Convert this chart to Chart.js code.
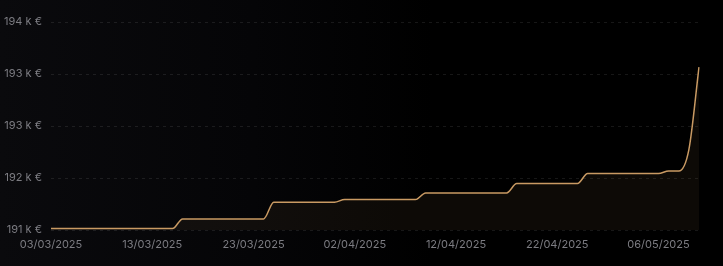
<!DOCTYPE html>
<html>
<head>
<meta charset="utf-8">
<script src="https://cdn.jsdelivr.net/npm/chart.js@4"></script>
<style>
  html, body { margin: 0; padding: 0; }
  body {
    width: 723px; height: 266px; overflow: hidden;
    background: linear-gradient(to right, #0a0a0d 0%, #050507 35%, #000 60%);
  }
  #wrap { position: relative; width: 723px; height: 266px; }
</style>
</head>
<body>
<div id="wrap"><canvas id="myChart"></canvas></div>
<script>
/* Data */

const dates = [
    '03/03/2025', '04/03/2025', '05/03/2025', '06/03/2025', '07/03/2025', '08/03/2025', '09/03/2025',
    '10/03/2025', '11/03/2025', '12/03/2025', '13/03/2025', '14/03/2025', '15/03/2025', '16/03/2025',
    '17/03/2025', '18/03/2025', '19/03/2025', '20/03/2025', '21/03/2025', '22/03/2025', '23/03/2025',
    '24/03/2025', '25/03/2025', '26/03/2025', '27/03/2025', '28/03/2025', '29/03/2025', '30/03/2025',
    '31/03/2025', '01/04/2025', '02/04/2025', '03/04/2025', '04/04/2025', '05/04/2025', '06/04/2025',
    '07/04/2025', '08/04/2025', '09/04/2025', '10/04/2025', '11/04/2025', '12/04/2025', '13/04/2025',
    '14/04/2025', '15/04/2025', '16/04/2025', '17/04/2025', '18/04/2025', '19/04/2025', '20/04/2025',
    '21/04/2025', '22/04/2025', '23/04/2025', '24/04/2025', '25/04/2025', '28/04/2025', '29/04/2025',
    '30/04/2025', '02/05/2025', '04/05/2025', '05/05/2025', '06/05/2025', '07/05/2025', '08/05/2025',
    '09/05/2025', '10/05/2025'
];

const portfolio = [
    191020, 191020, 191020, 191020, 191020, 191020, 191020, 191020, 191020, 191020, 191020, 191020, 191020,
    191160, 191160, 191160, 191160, 191160, 191160, 191160, 191160, 191160,
    191400, 191400, 191400, 191400, 191400, 191400, 191400,
    191440, 191440, 191440, 191440, 191440, 191440, 191440, 191440,
    191535, 191535, 191535, 191535, 191535, 191535, 191535, 191535, 191535,
    191670, 191670, 191670, 191670, 191670, 191670, 191670,
    191815, 191815, 191815, 191815, 191815, 191815, 191815, 191815,
    191850, 191850,
    192160,
    193350
];

// indexes of dates that get a label under the axis
const labelIdx = [0, 10, 20, 30, 40, 50, 60];

const yMin = 191000;
const yMax = 194000;
const yStep = 750;

/* Chart */

function initChart() {
    const canvas = document.getElementById('myChart');
    canvas.width = 723;
    canvas.height = 266;
    const ctx = canvas.getContext('2d');

    const lineColor = '#c99a63';

    new Chart(ctx, {
        type: 'line',
        data: {
            labels: dates,
            datasets: [{
                label: 'Portfolio',
                data: portfolio,
                borderColor: lineColor,
                borderWidth: 1.5,
                backgroundColor: 'rgba(200, 150, 95, 0.065)',
                fill: 'start',
                pointRadius: 0,
                pointHoverRadius: 0,
                cubicInterpolationMode: 'monotone',
            }]
        },
        options: {
            responsive: false,
            animation: false,
            devicePixelRatio: 1,
            layout: { padding: { top: 22, right: 24, left: 0, bottom: 0 } },
            plugins: {
                legend: { display: false },
                tooltip: { enabled: false },
            },
            scales: {
                x: {
                    grid: { display: false },
                    border: { display: false },
                    afterFit: (scale) => { scale.height = 36; },
                    ticks: {
                        autoSkip: false,
                        maxRotation: 0,
                        padding: 0,
                        color: '#7c7c82',
                        font: { family: 'Inter', size: 11 },
                        callback: function(value, index) {
                            return labelIdx.includes(index) ? dates[index] : null;
                        }
                    }
                },
                y: {
                    min: yMin,
                    max: yMax,
                    afterFit: (scale) => { scale.width = 51; },
                    grid: {
                        color: 'rgba(255, 255, 255, 0.09)',
                        drawTicks: false,
                    },
                    border: { display: false, dash: [3, 4] },
                    ticks: {
                        stepSize: yStep,
                        padding: 9,
                        color: '#7c7c82',
                        font: { family: 'Inter', size: 11 },
                        callback: (v) => Math.round(v / 1000) + ' k €'
                    }
                }
            }
        }
    });
}

initChart();
</script>
</body>
</html>
